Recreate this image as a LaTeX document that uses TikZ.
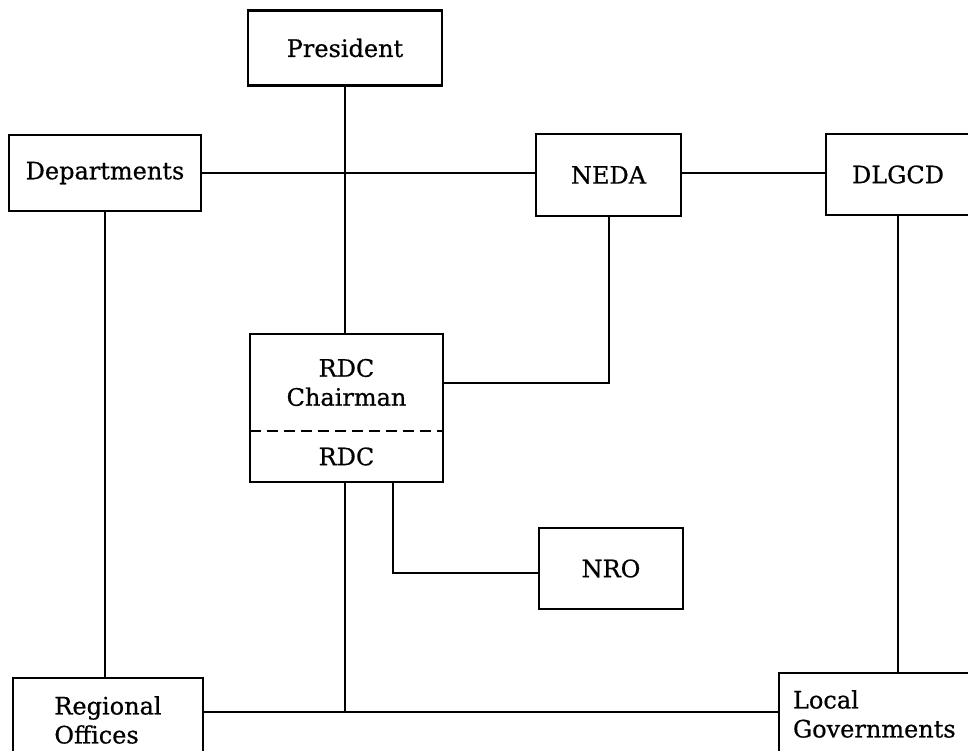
\documentclass[tikz,border=0pt]{standalone}
\usepackage{fontspec}
\setmainfont{DejaVu Serif}[FakeBold=0.6]
\begin{document}
\begin{tikzpicture}[x=1pt,y=-1pt,
  box/.style={draw,line width=2.2pt,rectangle,inner sep=0pt,
    font=\fontsize{24}{29}\selectfont},
  plain/.style={rectangle,inner sep=0pt,font=\fontsize{24}{29}\selectfont},
  conn/.style={line width=2pt}]
\clip (0,0) rectangle (968,751);
\fill[white] (0,0) rectangle (968,751);
% nodes
\node[box,minimum width=194pt,minimum height=75pt] (pres) at (345,48) {President};
\node[box,minimum width=192pt,minimum height=76pt] (dept) at (105,173) {Departments};
\node[box,minimum width=145pt,minimum height=82pt] (neda) at (608.5,175) {NEDA};
\node[box,minimum width=144pt,minimum height=81pt] (dlgcd) at (898,174.5) {DLGCD};
\node[plain,minimum width=193pt,minimum height=97pt,align=center] (rdcup) at (346.5,382.5) {RDC\\Chairman};
\node[plain,minimum width=193pt,minimum height=51pt] (rdclow) at (346.5,456.5) {RDC};
\draw[line width=2.2pt] (rdcup.north west) rectangle (rdclow.south east);
\draw[line width=2.2pt,dash pattern=on 11pt off 6pt] (rdcup.south west) -- (rdcup.south east);
\node[box,minimum width=144pt,minimum height=81pt] (nro) at (611,568.5) {NRO};
\node[box,minimum width=190pt,minimum height=84pt,align=left] (reg) at (108,720) {Regional\\Offices};
\node[box,minimum width=198pt,minimum height=82pt,align=left,text width=170pt] (loc) at (878,714) {Local\\Governments};
% coordinates
\coordinate (j) at (345,712);
\coordinate (k) at (393,573);
% connectors
\draw[conn] (pres.south) -- (pres.south |- rdcup.north);
\draw[conn] (dept.east) -- (dept.east -| neda.west);
\draw[conn] (neda.east |- dept.east) -- (dlgcd.west |- dept.east);
\draw[conn] (neda.south) |- (rdcup.east);
\draw[conn] (dept.south) -- (dept.south |- reg.north);
\draw[conn] (dlgcd.south) -- (dlgcd.south |- loc.north);
\draw[conn] (j |- rdclow.south) -- (j);
\draw[conn] (j -| reg.east) -- (j -| loc.west);
\draw[conn] (k |- rdclow.south) -- (k) -- (k -| nro.west);
\end{tikzpicture}
\end{document}
